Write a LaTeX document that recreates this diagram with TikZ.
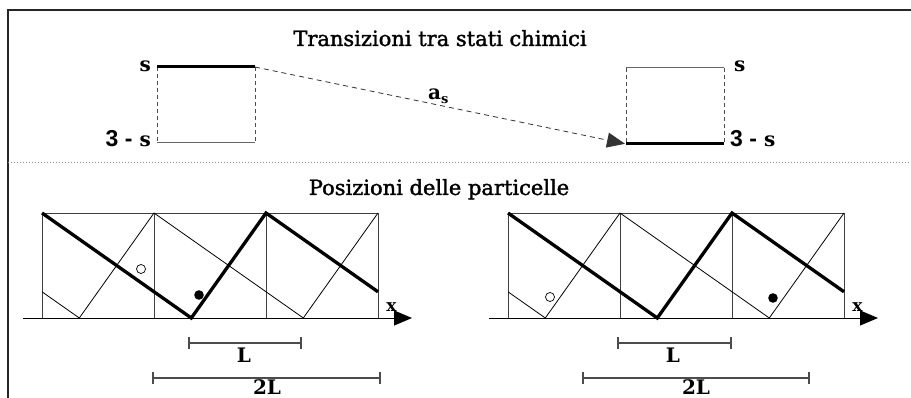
\documentclass[tikz,border=0pt]{standalone}
\usepackage{fontspec}
\setmainfont{DejaVu Serif}
\newfontfamily\numfont{Liberation Sans}
\newfontfamily\ttlfont[FakeBold=1.6]{DejaVu Serif}
\usetikzlibrary{arrows.meta}
\begin{document}
\begin{tikzpicture}[x=1pt,y=-1pt,
  ttl/.style={font=\ttlfont\fontsize{21}{24}\selectfont, inner sep=0pt, anchor=base},
  lbl/.style={font=\fontsize{20}{22}\selectfont\bfseries, inner sep=0pt},
  xlbl/.style={font=\fontsize{17}{18}\selectfont\bfseries, inner sep=0pt},
  thickl/.style={line width=3.3pt, black},
  thinl/.style={line width=0.8pt, black},
  gridl/.style={line width=0.9pt, black!75},
  lvl/.style={line width=1pt, black!60},
  sidel/.style={line width=0.8pt, black!70, dash pattern=on 4pt off 3pt},
  barl/.style={line width=1.1pt, black!70},
  tip/.style={-{Triangle[length=18pt,width=15pt]}}
]
\useasboundingbox (0,0) rectangle (911,398);
\clip (0,0) rectangle (911,398);
% frame
\draw[line width=1.3pt, black!85] (8,402) -- (8,10) -- (915,10);
% titles
\node[ttl] (t1) at (440,46) {Transizioni tra stati chimici};
\node[ttl] (t2) at (439,195) {Posizioni delle particelle};
% separator
\coordinate (sepA) at (8,162);
\coordinate (sepB) at (911,162);
\draw[black!45, line width=0.8pt, dash pattern=on 1pt off 2pt] (sepA) -- (sepB);
% left state box
\coordinate (LTL) at (157,67); \coordinate (LTR) at (255,67);
\coordinate (LBL) at (157,143); \coordinate (LBR) at (255,143);
\draw[sidel] (LTL) -- (LBL);
\draw[sidel] (LTR) -- (LBR);
\draw[lvl] (LBL) -- (LBR);
\draw[thickl, line width=3pt] (LTL) -- (LTR);
\node[lbl, anchor=east] (ls) at (151,66) {s};
\node[lbl, anchor=base east] (l3s) at (151,147) {{\numfont\fontsize{23}{25}\selectfont 3 -} s};
% right state box
\coordinate (RTL) at (626,68); \coordinate (RTR) at (724,68);
\coordinate (RBL) at (626,144); \coordinate (RBR) at (724,144);
\draw[sidel] (RTL) -- (RBL);
\draw[sidel] (RTR) -- (RBR);
\draw[lvl] (RTL) -- (RTR);
\draw[thickl, line width=3pt] (RBL) -- (RBR);
\node[lbl, anchor=west] (rs) at (734,66) {s};
\node[lbl, anchor=base west] (r3s) at (730,147) {{\numfont\fontsize{23}{25}\selectfont 3 -} s};
% transition arrow
\draw[line width=0.8pt, black!80, dash pattern=on 5pt off 4pt, tip, shorten >=1pt] (LTR) -- (RBL);
\node[lbl, anchor=base west] (as) at (428,100) {a\raisebox{-0.35ex}{\fontsize{13}{13}\selectfont s}};
% panels
\foreach \dx/\oa/\ob/\fa/\fb/\La/\Lb/\Ma/\Mb/\Lx/\Mx in {0/141/269/199/295/189/301/153/380/244/267, 466/84/297/307/298/152/265/117/343/207/230} {
\begin{scope}[shift={(\dx,0)}]
  \coordinate (axA) at (23,318); \coordinate (axB) at (412,318);
  \draw[gridl] (42,213) rectangle (378,318);
  \draw[gridl] (154,213) -- (154,318);
  \draw[gridl] (266,213) -- (266,318);
  \draw[line width=0.9pt, black, tip] (axA) -- (axB);
  \node[xlbl, anchor=base] (xl) at (391.5,312) {x};
  % thin zigzag
  \draw[thinl] (42,291.8) -- (79.3,318) -- (154,213) -- (303.3,318) -- (378,213);
  % thick zigzag
  \draw[thickl, line join=miter] (42,213) -- (191.3,318) -- (266,213) -- (378,291.8);
  % particles
  \draw[line width=0.7pt, fill=white] (\oa,\ob) circle (4.5pt);
  \fill[black] (\fa,\fb) circle (4.8pt);
  % bars
  \coordinate (bLa) at (\La,343); \coordinate (bLb) at (\Lb,343);
  \draw[barl] (bLa) -- (bLb);
  \draw[barl] ([yshift=-6pt]bLa) -- ([yshift=6pt]bLa);
  \draw[barl] ([yshift=-6pt]bLb) -- ([yshift=6pt]bLb);
  \coordinate (bMa) at (\Ma,378); \coordinate (bMb) at (\Mb,378);
  \draw[barl] (bMa) -- (bMb);
  \draw[barl] ([yshift=-6pt]bMa) -- ([yshift=6pt]bMa);
  \draw[barl] ([yshift=-6pt]bMb) -- ([yshift=6pt]bMb);
  \node[lbl, anchor=base] (Ll) at (\Lx,362) {L};
  \node[lbl, anchor=base] (L2) at (\Mx,394) {2L};
\end{scope}
}
\end{tikzpicture}
\end{document}
